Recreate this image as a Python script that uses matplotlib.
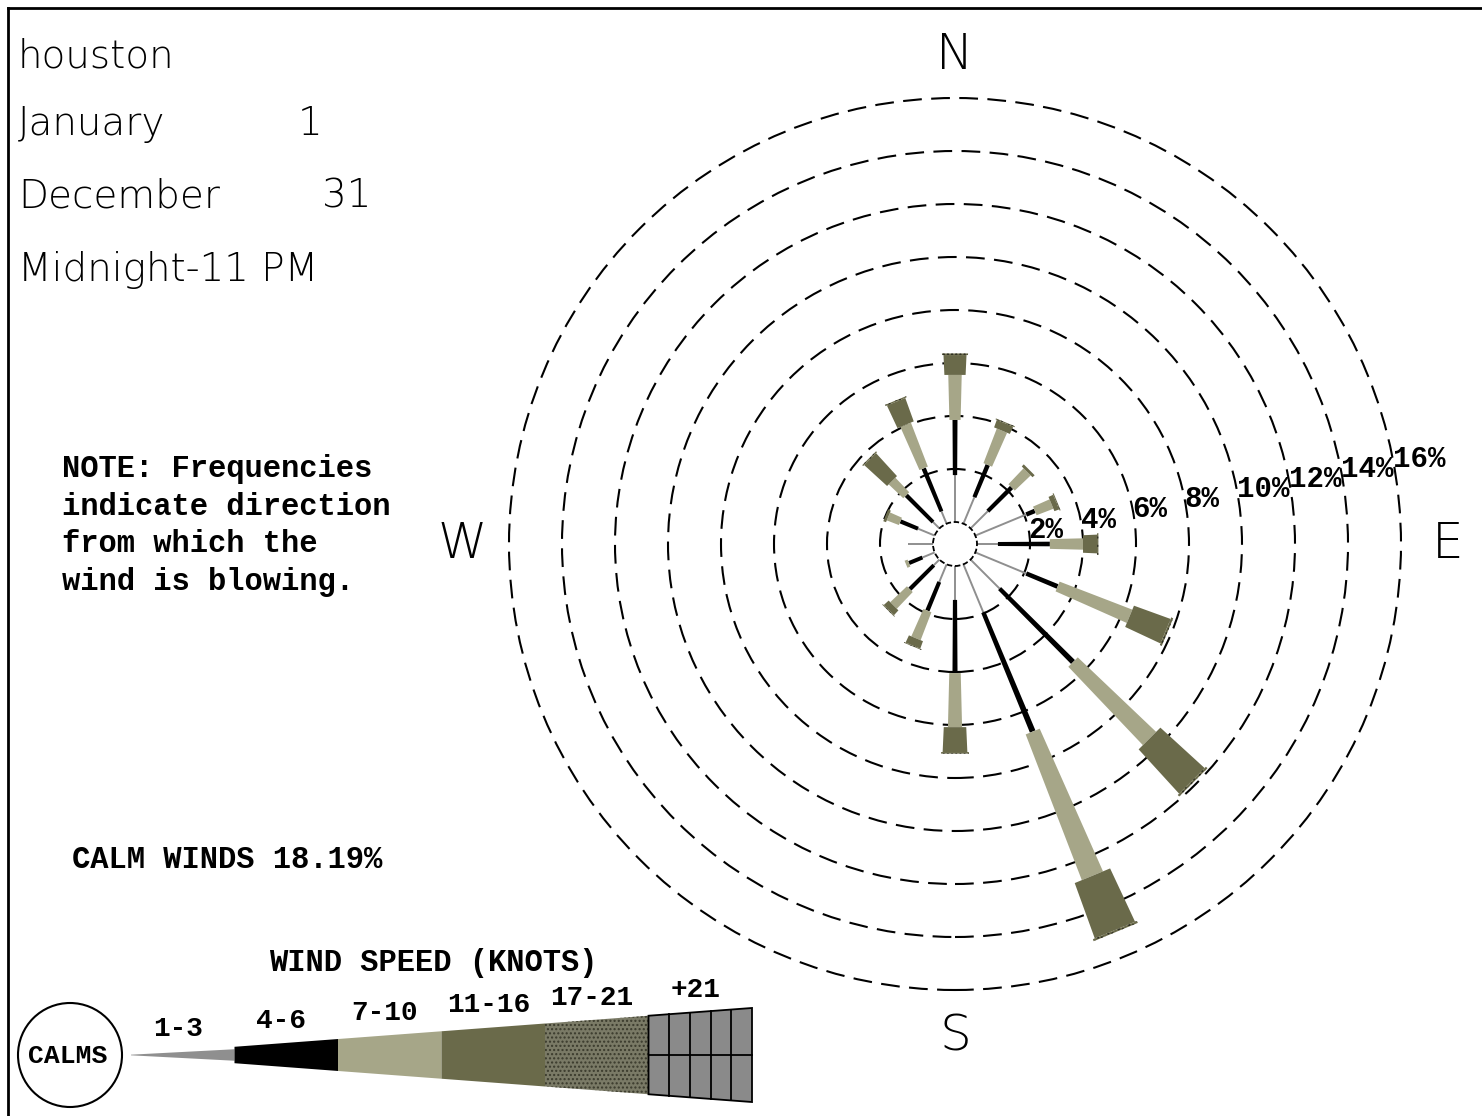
import numpy as np
import matplotlib.pyplot as plt
from matplotlib.patches import Polygon, Circle, Ellipse

plt.rcParams["hatch.linewidth"] = 1.0

# Station / period header
station = "houston"
months = ["January", "December"]
days = [1, 31]
hours = "Midnight-11 PM"

note_lines = ["NOTE: Frequencies", "indicate direction",
              "from which the", "wind is blowing."]

calm_pct = 18.19

# 16 compass directions, clockwise from north
directions = ["N", "NNE", "NE", "ENE", "E", "ESE", "SE", "SSE",
              "S", "SSW", "SW", "WSW", "W", "WNW", "NW", "NNW"]
dir_deg = np.arange(16) * 22.5

# percent frequency per speed class (knots)
speed_labels = ["1-3", "4-6", "7-10", "11-16", "17-21", "+21"]
spd_1_3 = [1.77, 1.08, 0.92, 2.08, 0.79, 2.08, 1.55, 1.96,
           1.28, 0.72, 0.30, 0.50, 0.95, 0.68, 0.34, 0.50]
spd_4_6 = [2.08, 1.32, 1.27, 0.35, 1.96, 1.28, 3.92, 4.87,
           2.76, 1.17, 1.28, 0.55, 0.00, 0.72, 1.43, 1.76]
spd_7_10 = [1.70, 1.40, 0.83, 0.68, 1.25, 2.94, 4.08, 5.89,
            2.04, 1.13, 0.87, 0.12, 0.00, 0.49, 0.76, 1.78]
spd_11_16 = [0.75, 0.30, 0.11, 0.19, 0.53, 1.47, 2.26, 2.22,
             0.94, 0.30, 0.25, 0.00, 0.00, 0.11, 1.17, 0.94]
spd_17_21 = [0.06, 0.04, 0.00, 0.04, 0.05, 0.08, 0.08, 0.08,
             0.06, 0.03, 0.03, 0.00, 0.00, 0.00, 0.05, 0.05]
spd_21_up = [0.00] * 16

ring_pcts = [2, 4, 6, 8, 10, 12, 14, 16]

# ---- styles ----
thin_font = dict(family="DejaVu Sans", fontweight="light", color="black")
bit_font = dict(family=["Liberation Mono", "DejaVu Sans Mono"],
                fontweight="bold", color="black")

cls_color = ["#8f8f8f", "#000000", "#a6a688", "#6a6a4a", "#7a7a66", "#8a8a8a"]
# bar width in pixels: a + k * radius_px
cls_width = [(1.2, 0.0), (3.5, 0.012), (5.0, 0.05), (6.0, 0.09),
             (8.0, 0.095), (10.0, 0.10)]

W, H = 1482, 1116
fig = plt.figure(figsize=(W / 100, H / 100), dpi=100)

# full-page axes in pixel units for text, frame and legend
bg = fig.add_axes([0, 0, 1, 1])
bg.set_xlim(0, W)
bg.set_ylim(H, 0)
bg.axis("off")

bg.plot([8, 8], [H, 8], color="black", lw=2)
bg.plot([8, W], [8, 8], color="black", lw=2)

bg.text(18, 67, station, fontsize=28, va="baseline", **thin_font)
for i, (m, d) in enumerate(zip(months, days)):
    y = 135 + i * 72
    bg.text(18, y, m, fontsize=28, va="baseline", **thin_font)
    bg.text(298 + 24 * (len(str(d)) - 1), y, str(d), fontsize=28,
            va="baseline", **thin_font)
bg.text(18, 281, hours, fontsize=28, va="baseline", **thin_font)

for i, line in enumerate(note_lines):
    bg.text(62, 469 + i * 37.7, line, fontsize=22, va="center", **bit_font)

bg.text(72, 860, f"CALM WINDS {calm_pct:.2f}%", fontsize=22, va="center",
        **bit_font)

# ---- speed legend ----
bg.text(433, 963, "WIND SPEED (KNOTS)", fontsize=22, ha="center",
        va="center", **bit_font)
bg.add_patch(Ellipse((70, 1055), 104, 104, fill=False, ec="black", lw=1.5))
bg.text(68, 1056, "CALMS", fontsize=19, ha="center", va="center", **bit_font)

lx0, seg, ly = 131, 103.5, 1055


def half_h(x):
    return 0.075 * (x - 125)


for i, lab in enumerate(speed_labels):
    xs, xe = lx0 + i * seg, lx0 + (i + 1) * seg
    f = 0.7 if i == 0 else 1.0
    h1, h2 = half_h(xs) * f, half_h(xe) * f
    pts = [(xs, ly - h1), (xe, ly - h2), (xe, ly + h2), (xs, ly + h1)]
    if i == 4:
        bg.add_patch(Polygon(pts, fc=cls_color[i], ec="#3a3a2c", lw=0,
                             hatch="...."))
    elif i == 5:
        bg.add_patch(Polygon(pts, fc=cls_color[i], ec="black", lw=1.3))
        for k in range(1, 5):
            xk = xs + k * seg / 5
            hk = half_h(xk)
            bg.plot([xk, xk], [ly - hk, ly + hk], color="black", lw=1.3)
        bg.plot([xs, xe], [ly, ly], color="black", lw=1.3)
    else:
        bg.add_patch(Polygon(pts, fc=cls_color[i], ec="none"))
    xc = (xs + xe) / 2
    bg.text(xc - 5, ly - half_h(xc) - 22, lab, fontsize=20, ha="center",
            va="center", **bit_font)

# ---- wind rose in percent units ----
px = 26.5                 # pixels per percent
r0 = 22 / px              # calm circle radius
cx, cy, half = 955, 544, 18
ax = fig.add_axes([(cx - half * px) / W, (H - cy - half * px) / H,
                   2 * half * px / W, 2 * half * px / H])
ax.set_xlim(-half, half)
ax.set_ylim(-half, half)
ax.axis("off")

for p in ring_pcts:
    ax.add_patch(Circle((0, 0), r0 + p, fill=False, ec="black", lw=1.5,
                        ls=(0, (9, 4.5)), zorder=1))
    t = np.deg2rad(79)
    ax.text((r0 + p) * np.sin(t), (r0 + p) * np.cos(t), f"{p}%",
            fontsize=21, ha="left", va="center", zorder=5, **bit_font)
ax.add_patch(Circle((0, 0), r0, fill=False, ec="black", lw=1.3,
                    ls=(0, (3, 1.5)), zorder=4))

for lab, ang in zip(["N", "E", "S", "W"], [0, 90, 180, 270]):
    t = np.deg2rad(ang)
    ax.text(18.6 * np.sin(t), 18.6 * np.cos(t) - (0.15 if ang == 0 else 0),
            lab, fontsize=36, ha="center", va="center", **thin_font)


def width(c, r):
    a, k = cls_width[c]
    return a / px + k * r


classes = [spd_1_3, spd_4_6, spd_7_10, spd_11_16, spd_17_21, spd_21_up]
for d, ang in enumerate(dir_deg):
    t = np.deg2rad(ang)
    u = np.array([np.sin(t), np.cos(t)])
    n = np.array([np.cos(t), -np.sin(t)])
    r = r0
    for c, vals in enumerate(classes):
        v = vals[d]
        if v <= 0:
            continue
        r1, r2 = r, r + v
        if c == 0:
            ax.plot([u[0] * r1, u[0] * r2], [u[1] * r1, u[1] * r2],
                    color=cls_color[0], lw=1.4, zorder=2,
                    solid_capstyle="butt")
        else:
            w1, w2 = width(c, r1), width(c, r2)
            pts = [u * r1 + n * w1 / 2, u * r2 + n * w2 / 2,
                   u * r2 - n * w2 / 2, u * r1 - n * w1 / 2]
            if c == 4:
                ax.add_patch(Polygon(pts, fc="#6a6a4a", ec="#2a2a20", lw=0,
                                     hatch="....", zorder=3))
            else:
                ax.add_patch(Polygon(pts, fc=cls_color[c], ec="none",
                                     zorder=3))
        r = r2

fig.savefig("out.png", dpi=100, facecolor="white")
